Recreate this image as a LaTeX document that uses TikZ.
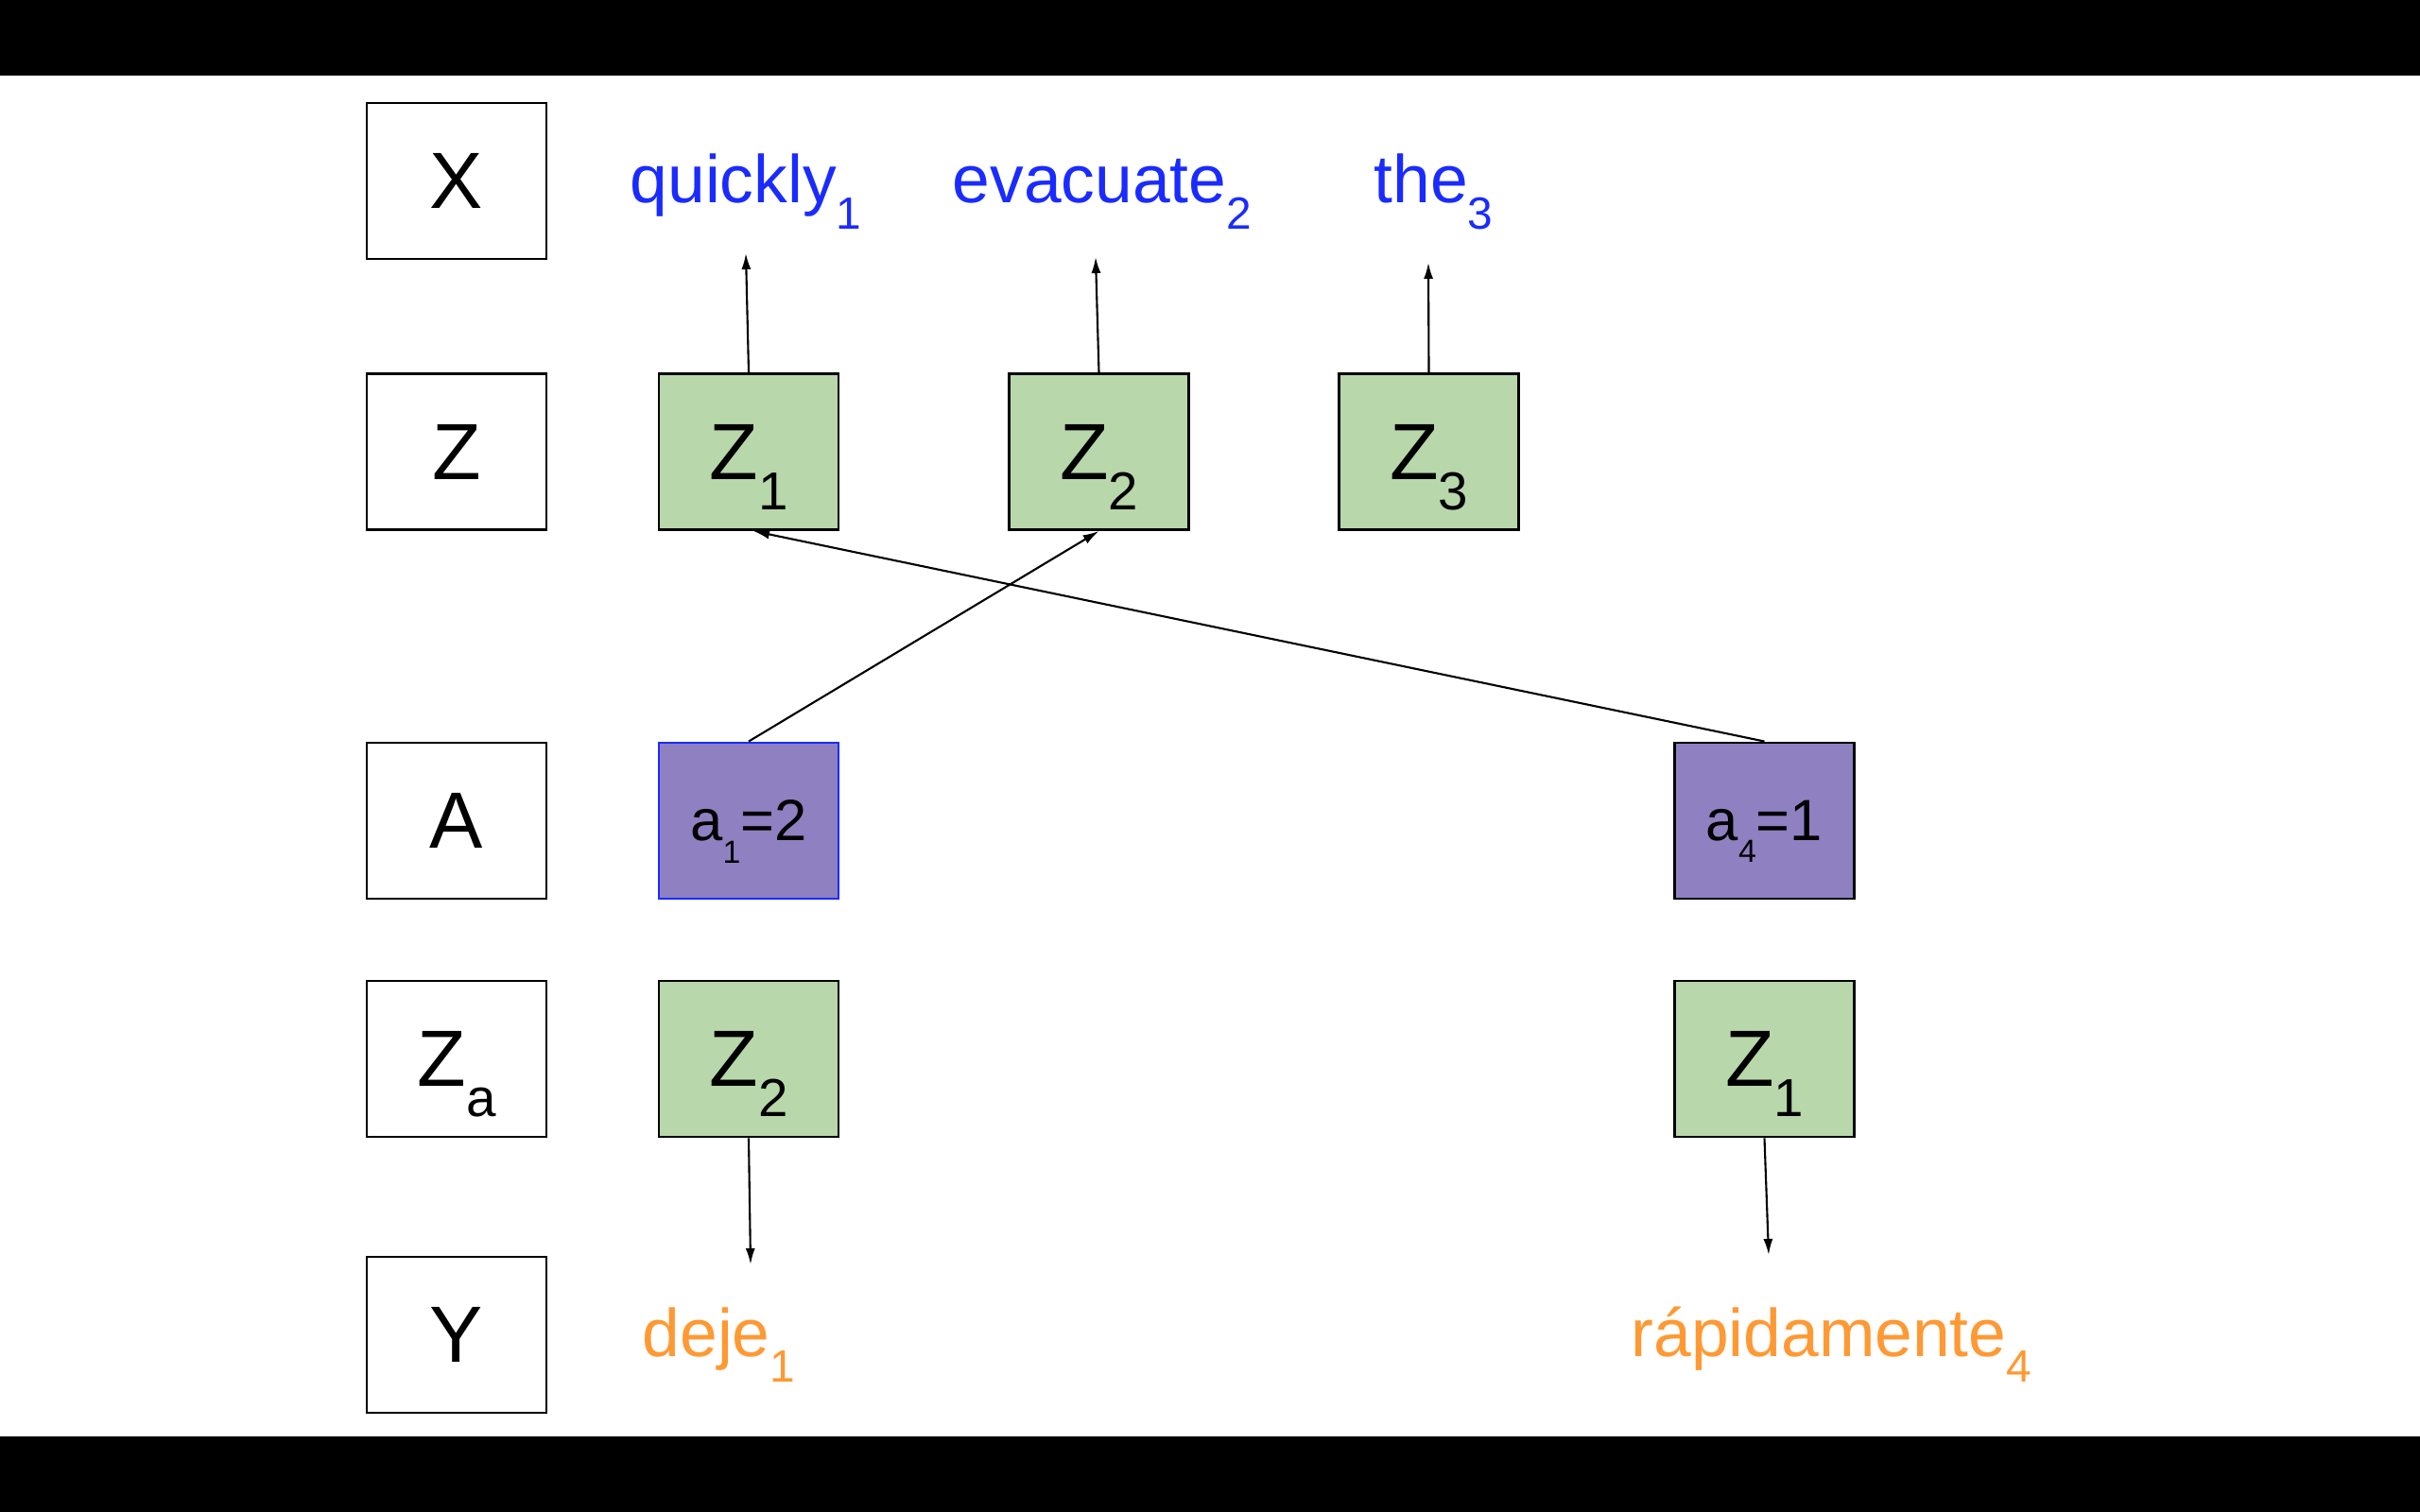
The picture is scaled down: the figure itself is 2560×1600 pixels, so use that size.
\documentclass[tikz,border=0pt]{standalone}
\usepackage{fontspec}
\setmainfont{Liberation Sans}
\usepackage{graphicx}
\usetikzlibrary{arrows.meta}
\definecolor{zgreen}{HTML}{B8D7AB}
\definecolor{apurple}{HTML}{8E80C1}
\definecolor{wblue}{HTML}{1A2BFF}
\definecolor{worange}{HTML}{FF9933}
\newcommand\mysub[2][0.67]{\raisebox{-0.38em}[0pt][0pt]{\scalebox{#1}{#2}}}
\begin{document}
\begin{tikzpicture}[x=0.01cm,y=-0.01cm,
  lbox/.style={draw=black, line width=0.8pt, minimum width=1.9cm, minimum height=1.65cm, inner sep=0pt, font=\fontsize{24}{28}\selectfont},
  zbox/.style={lbox, fill=zgreen},
  abox/.style={lbox, fill=apurple, font=\fontsize{17.5}{20}\selectfont},
  word/.style={inner sep=0pt, anchor=base west, font=\fontsize{20.3}{24}\selectfont},
  xword/.style={word, text=wblue},
  yword/.style={word, text=worange},
  arr/.style={line width=0.6pt, -{Latex[length=0.17cm,width=0.1cm]}}]
\useasboundingbox (0,0) rectangle (2560,1600);
\fill[white] (0,0) rectangle (2560,1600);
\fill[black] (0,0) rectangle (2560,80);
\fill[black] (0,1520) rectangle (2560,1600);
% row labels
\node[lbox] (lx) at (483,191.5) {X};
\node[lbox] (lz) at (483,478) {Z};
\node[lbox] (la) at (483,868.5) {A};
\node[lbox] (lza) at (483,1120.5) {Z\mysub{a}};
\node[lbox] (ly) at (483,1412.5) {Y};
% X words
\node[xword] (quickly) at (666,215) {quickly\mysub{1}};
\node[xword] (evacuate) at (1007,215) {evacuate\mysub{2}};
\node[xword] (the) at (1453,215) {the\mysub{3}};
% Z row
\node[zbox] (z1) at (792,478) {Z\mysub{1}};
\node[zbox] (z2) at (1162.5,478) {Z\mysub{2}};
\node[zbox] (z3) at (1511.5,478) {Z\mysub{3}};
% A row
\node[abox, draw=wblue] (a1) at (792,868.5) {a\mysub[0.55]{1}=2};
\node[abox] (a4) at (1866.5,868.5) {a\mysub[0.55]{4}=1};
% Za row
\node[zbox] (za1) at (792,1120.5) {Z\mysub{2}};
\node[zbox] (za4) at (1866.5,1120.5) {Z\mysub{1}};
% Y words
\node[yword] (deje) at (679,1435) {deje\mysub{1}};
\node[yword] (rapid) at (1725,1435) {rápidamente\mysub{4}};
% arrow end points
\coordinate (t1) at (789,268);
\coordinate (t2) at (1159,272);
\coordinate (t3) at (1511,278);
\coordinate (b1) at (794,1338);
\coordinate (b4) at (1871,1328);
% connectors
\draw[arr] (z1.north) -- (t1);
\draw[arr] (z2.north) -- (t2);
\draw[arr] (z3.north) -- (t3);
\draw[arr] (a1.north) -- (z2.south);
\draw[arr] (a4.north) -- ([xshift=0.05cm]z1.south);
\draw[arr] (za1.south) -- (b1);
\draw[arr] (za4.south) -- (b4);
\end{tikzpicture}
\end{document}
